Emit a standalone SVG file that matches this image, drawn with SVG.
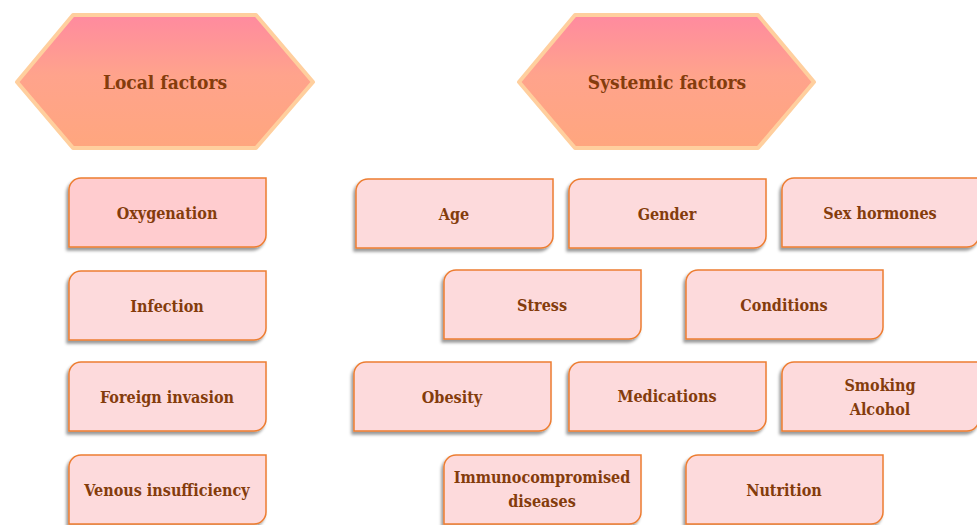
<svg xmlns="http://www.w3.org/2000/svg" width="977" height="525" viewBox="0 0 977 525">
  <defs>
    <linearGradient id="hexGrad" x1="0" y1="0" x2="0" y2="1">
      <stop offset="0" stop-color="#ff8a9f"/>
      <stop offset="0.45" stop-color="#ffa38c"/>
      <stop offset="1" stop-color="#ffa67e"/>
    </linearGradient>
    <filter id="shadow" x="-10%" y="-15%" width="120%" height="135%">
      <feDropShadow dx="-2" dy="3" stdDeviation="1.5" flood-color="#000" flood-opacity="0.4"/>
    </filter>
    <path id="box" d="M12,0 H197 V57 A12,12 0 0 1 185,69 H0 V12 A12,12 0 0 1 12,0 Z"/>
  </defs>
  <style>
    .hex { fill: url(#hexGrad); stroke: #ffcf9e; stroke-width: 4; stroke-linejoin: round; }
    .b { fill: #fddadc; stroke: #ed7d31; stroke-width: 1.5; filter: url(#shadow); }
    .b2 { fill: #ffcccf; stroke: #ed7d31; stroke-width: 1.5; filter: url(#shadow); }
    .h { font-family: 'DejaVu Serif Condensed', 'DejaVu Serif', serif; font-weight: bold; font-size: 19px; fill: #843c0c; text-anchor: middle; }
    .t { font-family: 'DejaVu Serif Condensed', 'DejaVu Serif', serif; font-weight: bold; font-size: 16px; fill: #843c0c; text-anchor: middle; }
  </style>
  <rect width="977" height="525" fill="#ffffff"/>

  <g id="local-factors">
    <polygon class="hex" points="17,82 73,15 256,15 313,82 256,148 73,148"/>
    <text class="h" x="165" y="89">Local factors</text>
  </g>
  <g id="systemic-factors">
    <polygon class="hex" points="519,82 575,15 758,15 814,82 758,148 575,148"/>
    <text class="h" x="667" y="89">Systemic factors</text>
  </g>

  <g id="oxygenation" transform="translate(69,178)">
    <use href="#box" class="b2"/>
    <text class="t" x="98" y="41">Oxygenation</text>
  </g>
  <g id="infection" transform="translate(69,271)">
    <use href="#box" class="b"/>
    <text class="t" x="98" y="41">Infection</text>
  </g>
  <g id="foreign-invasion" transform="translate(69,362)">
    <use href="#box" class="b"/>
    <text class="t" x="98" y="41">Foreign invasion</text>
  </g>
  <g id="venous-insufficiency" transform="translate(69,455)">
    <use href="#box" class="b"/>
    <text class="t" x="98" y="41">Venous insufficiency</text>
  </g>

  <g id="age" transform="translate(356,179)">
    <use href="#box" class="b"/>
    <text class="t" x="98" y="41">Age</text>
  </g>
  <g id="gender" transform="translate(569,179)">
    <use href="#box" class="b"/>
    <text class="t" x="98" y="41">Gender</text>
  </g>
  <g id="sex-hormones" transform="translate(782,178)">
    <use href="#box" class="b"/>
    <text class="t" x="98" y="41">Sex hormones</text>
  </g>

  <g id="stress" transform="translate(444,270)">
    <use href="#box" class="b"/>
    <text class="t" x="98" y="41">Stress</text>
  </g>
  <g id="conditions" transform="translate(686,270)">
    <use href="#box" class="b"/>
    <text class="t" x="98" y="41">Conditions</text>
  </g>

  <g id="obesity" transform="translate(354,362)">
    <use href="#box" class="b"/>
    <text class="t" x="98" y="41">Obesity</text>
  </g>
  <g id="medications" transform="translate(569,362)">
    <use href="#box" class="b"/>
    <text class="t" x="98" y="40">Medications</text>
  </g>
  <g id="smoking-alcohol" transform="translate(782,362)">
    <use href="#box" class="b"/>
    <text class="t" x="98" y="29">Smoking</text>
    <text class="t" x="98" y="53">Alcohol</text>
  </g>

  <g id="immunocompromised-diseases" transform="translate(444,455)">
    <use href="#box" class="b"/>
    <text class="t" x="98" y="28">Immunocompromised</text>
    <text class="t" x="98" y="52">diseases</text>
  </g>
  <g id="nutrition" transform="translate(686,455)">
    <use href="#box" class="b"/>
    <text class="t" x="98" y="41">Nutrition</text>
  </g>

  <g id="connectors"></g>
</svg>
